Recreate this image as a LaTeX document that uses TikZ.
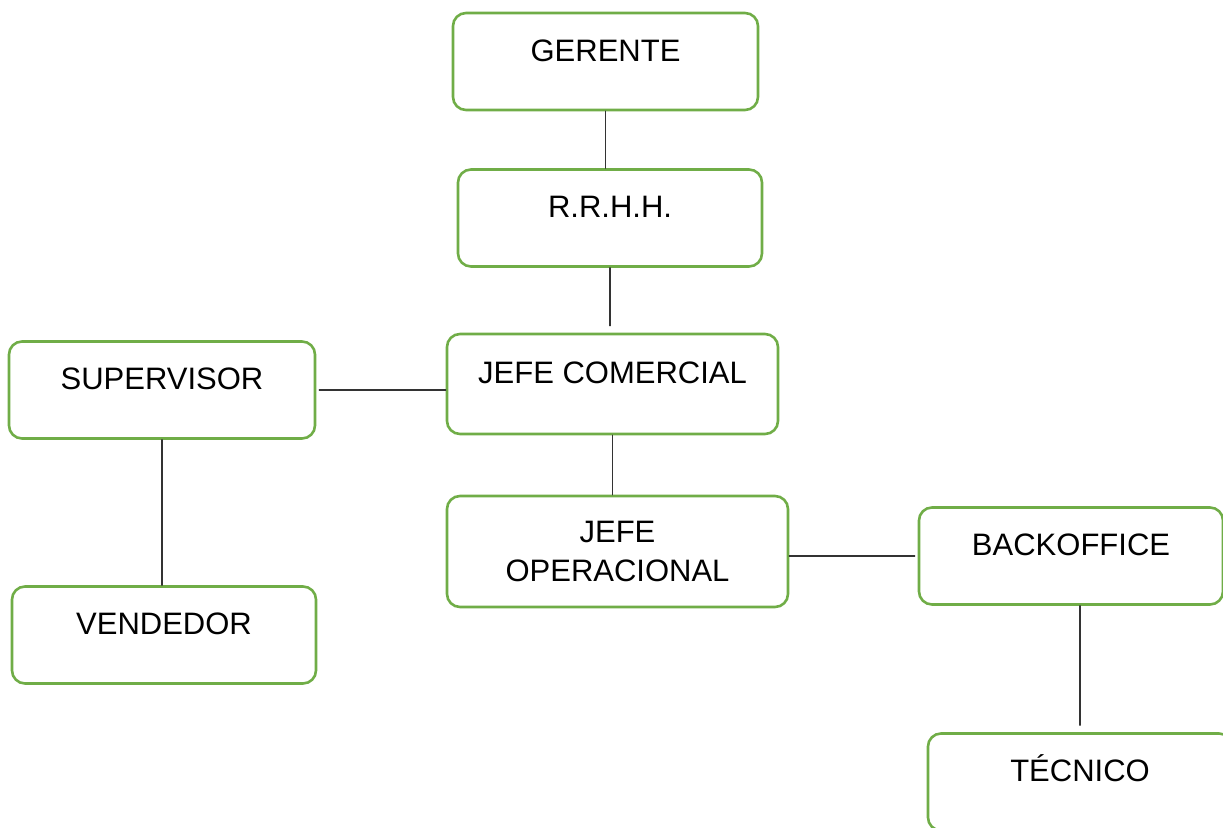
\documentclass[tikz,border=0pt]{standalone}
\usepackage{fontspec}
\setmainfont{Liberation Sans}
\definecolor{boxgreen}{HTML}{70AD47}
\begin{document}
\begin{tikzpicture}[x=1pt, y=-1pt, line join=round, line cap=round,
  box/.style={draw=boxgreen, line width=2.6pt, rounded corners=13pt, fill=white,
    inner sep=0pt, font=\fontsize{31}{39}\selectfont},
  oneline/.style={box, text height=48pt, text depth=49pt},
  conn/.style={draw=black!80, line width=1.4pt}]
\clip (0,0) rectangle (1223,827);
\foreach \n/\x/\y/\w/\h/\t in {gerente/605.5/61.5/305/97/GERENTE, rrhh/610/218/304/96/R.R.H.H.,
  jc/612.5/384/331/100/JEFE COMERCIAL, sup/162/390/306/96/SUPERVISOR,
  vend/164/635/304/96/VENDEDOR, bo/1071/556/304/96/BACKOFFICE, tec/1080/782/304/96/TÉCNICO}
\node[oneline, minimum width=\w, minimum height=\h] (\n) at (\x,\y) {\t};
\node[box, align=center, minimum width=341, minimum height=111] (jo) at (617.5,551.5) {JEFE\\OPERACIONAL};
\draw[conn] (gerente.south) -- (gerente.south |- rrhh.north);
\draw[conn, shorten >=7pt] (rrhh.south) -- (rrhh.south |- jc.north);
\draw[conn] (jc.south) -- (jc.south |- jo.north);
\draw[conn, shorten <=3pt] (sup.east) -- (sup.east -| jc.west);
\draw[conn] (sup.south) -- (sup.south |- vend.north);
\draw[conn, shorten <=3pt] (bo.west) -- (bo.west -| jo.east);
\draw[conn, shorten <=7pt] (tec.north) -- (tec.north |- bo.south);
\end{tikzpicture}
\end{document}
